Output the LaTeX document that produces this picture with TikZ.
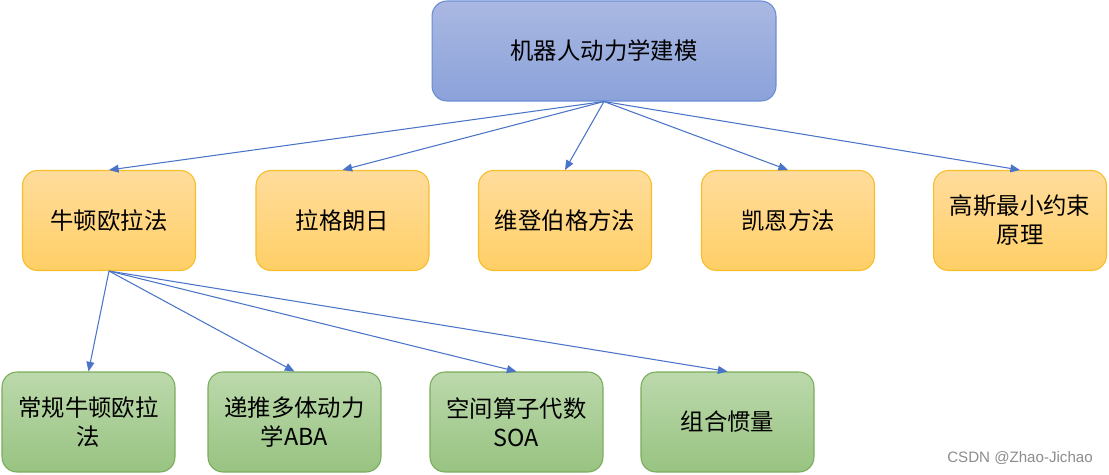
\documentclass[tikz,border=0pt]{standalone}
\usepackage{fontspec}
\newfontfamily\cjk{Noto Sans CJK SC}
\newfontfamily\markfont{Liberation Sans}
\usetikzlibrary{arrows.meta}
\definecolor{topA}{HTML}{AAB8E2}
\definecolor{topB}{HTML}{8BA2DA}
\definecolor{topline}{HTML}{6A8CD2}
\definecolor{midA}{HTML}{FFDC9C}
\definecolor{midB}{HTML}{FFCF66}
\definecolor{midline}{HTML}{F5BE2A}
\definecolor{lowA}{HTML}{BCD9AC}
\definecolor{lowB}{HTML}{98C381}
\definecolor{lowline}{HTML}{79AC5A}
\definecolor{linkblue}{HTML}{4A74C8}
\tikzset{
  box/.style={rounded corners=0.3cm,line width=0.6pt,align=center,inner sep=0pt,
    minimum width=3.46cm,minimum height=2cm,font=\cjk\fontsize{13.3}{16.5}\selectfont},
  topbox/.style={box,minimum width=6.88cm,top color=topA,bottom color=topB,draw=topline},
  midbox/.style={box,top color=midA,bottom color=midB,draw=midline},
  lowbox/.style={box,top color=lowA,bottom color=lowB,draw=lowline},
  link/.style={draw=linkblue,line width=0.6pt,-{Triangle[length=5.5pt,width=4.5pt]}}
}
\begin{document}
\begin{tikzpicture}[x=0.02cm,y=-0.02cm]
\useasboundingbox (0,0) rectangle (1109,474);
\node[topbox] (model) at (604,51) {机器人动力学建模};
\node[midbox] (newton) at (109,220.5) {牛顿欧拉法};
\node[midbox] (lagrange) at (342.5,220.5) {拉格朗日};
\node[midbox] (wittenburg) at (565,220.5) {维登伯格方法};
\node[midbox] (kane) at (788,220.5) {凯恩方法};
\node[midbox] (gauss) at (1020,220.5) {高斯最小约束\\原理};
\node[lowbox] (classic) at (88.5,422) {常规牛顿欧拉\\法};
\node[lowbox] (aba) at (294.5,422) {递推多体动力\\学ABA};
\node[lowbox] (soa) at (516.5,422) {空间算子代数\\SOA};
\node[lowbox] (inertia) at (727.5,422) {组合惯量};
\foreach \n in {newton,lagrange,wittenburg,kane,gauss}
  \draw[link] (model.south) -- (\n.north);
\foreach \n in {classic,aba,soa,inertia}
  \draw[link] (newton.south) -- (\n.north);
\node[font=\markfont\fontsize{8.6}{10}\selectfont,text=black!45] (mark) at (1020,458) {CSDN @Zhao-Jichao};
\end{tikzpicture}
\end{document}
